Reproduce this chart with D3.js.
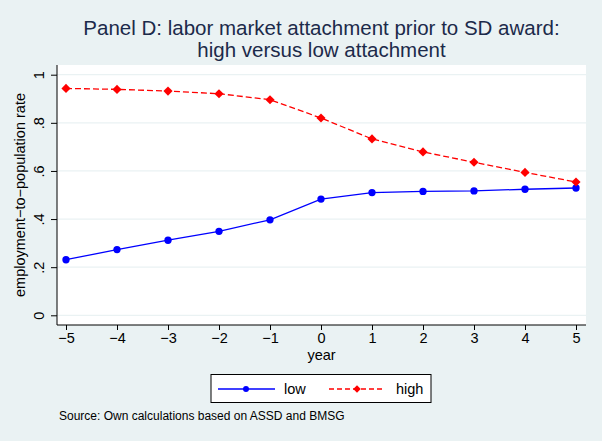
<!DOCTYPE html>
<html><head><meta charset="utf-8">
<script src="https://cdn.jsdelivr.net/npm/d3@7"></script>
<style>body{margin:0;background:#fff;}svg{display:block;font-family:"Liberation Sans",Arial,sans-serif;}</style>
</head><body>
<script>
const years = [-5,-4,-3,-2,-1,0,1,2,3,4,5];
const lowVals = [0.231,0.273,0.312,0.349,0.397,0.483,0.510,0.515,0.517,0.524,0.529];
const highVals = [0.943,0.939,0.932,0.921,0.896,0.820,0.733,0.679,0.636,0.594,0.554];
const yTicks = [0,0.2,0.4,0.6,0.8,1];
const yTickLabels = ["0",".2",".4",".6",".8","1"];
const xTickLabels = ["−5","−4","−3","−2","−1","0","1","2","3","4","5"];
const seriesNames = ["low","high"];

const W=605,H=444;
const bg="#EAF2F3";
const svg=d3.select("body").append("svg").attr("width",W).attr("height",H);
svg.append("rect").attr("width",602).attr("height",441).attr("fill",bg);

const L=57,R=586,T=65,B=325;
const x=d3.scaleLinear().domain([-5,5]).range([66,576]);
const y=d3.scaleLinear().domain([0,1]).range([315.3,74.7]);

svg.append("rect").attr("x",L).attr("y",T).attr("width",R-L).attr("height",B-T).attr("fill","#fff");

// gridlines
svg.append("g").selectAll("line").data(yTicks).join("line")
 .attr("x1",L).attr("x2",R).attr("y1",d=>y(d)).attr("y2",d=>y(d))
 .attr("stroke",bg).attr("stroke-width",1.2);

// y axis
const yAxis=d3.axisLeft(y).tickValues(yTicks).tickSize(6).tickFormat((d,i)=>yTickLabels[i]);
const gy=svg.append("g").attr("transform",`translate(${L},0)`).call(yAxis);
gy.select(".domain").attr("d",`M0,${T}V${B}`).attr("stroke","#000");
gy.selectAll(".tick line").attr("stroke","#000");
gy.selectAll(".tick text").attr("font-size",14.5).attr("fill","#000")
 .attr("transform","rotate(-90)").attr("x",0).attr("dy",0).attr("y",-13).attr("text-anchor","middle");

// x axis
const xAxis=d3.axisBottom(x).tickValues(years).tickSize(5).tickFormat((d,i)=>xTickLabels[i]);
const gx=svg.append("g").attr("transform",`translate(0,${B})`).call(xAxis);
gx.select(".domain").attr("d",`M${L},0H${R}`).attr("stroke","#000");
gx.selectAll(".tick line").attr("stroke","#000");
gx.selectAll(".tick text").attr("font-size",14.5).attr("fill","#000").attr("y",8).attr("dy","0.71em");

svg.append("text").attr("x",(L+R)/2).attr("y",360).attr("text-anchor","middle").attr("font-size",14.5).text("year");
svg.append("text").attr("transform",`translate(25,${(T+B)/2}) rotate(-90)`).attr("text-anchor","middle").attr("font-size",14.5).text("employment−to−population rate");

// title
svg.append("text").attr("x",(L+R)/2).attr("y",35).attr("text-anchor","middle").attr("font-size",20.5).attr("fill","#1c2a4a").text("Panel D: labor market attachment prior to SD award:");
svg.append("text").attr("x",(L+R)/2).attr("y",56.5).attr("text-anchor","middle").attr("font-size",20.5).attr("fill","#1c2a4a").text("high versus low attachment");

// lines
const line=d3.line().x((d,i)=>x(years[i])).y(d=>y(d));
svg.append("path").datum(lowVals).attr("d",line).attr("fill","none").attr("stroke","#0000ff").attr("stroke-width",1.3);
svg.append("path").datum(highVals).attr("d",line).attr("fill","none").attr("stroke","#ff0000").attr("stroke-width",1.3).attr("stroke-dasharray","6,3");

const circ=d3.symbol().type(d3.symbolCircle).size(42);
const diam=d3.symbol().type(d3.symbolSquare).size(42);
svg.append("g").selectAll("path").data(lowVals).join("path")
 .attr("transform",(d,i)=>`translate(${x(years[i])},${y(d)})`).attr("d",circ).attr("fill","#0000ff");
svg.append("g").selectAll("path").data(highVals).join("path")
 .attr("transform",(d,i)=>`translate(${x(years[i])},${y(d)}) rotate(45)`).attr("d",diam).attr("fill","#ff0000");

// legend
const lg=svg.append("g");
lg.append("rect").attr("x",211).attr("y",374.5).attr("width",220).attr("height",28).attr("fill","#fff").attr("stroke","#000").attr("stroke-width",1);
lg.append("line").attr("x1",218).attr("x2",275).attr("y1",389).attr("y2",389).attr("stroke","#0000ff").attr("stroke-width",1.3);
lg.append("path").attr("transform","translate(246,389)").attr("d",d3.symbol().type(d3.symbolCircle).size(28)).attr("fill","#0000ff");
lg.append("text").attr("x",284).attr("y",394).attr("font-size",14.5).text(seriesNames[0]);
lg.append("line").attr("x1",329).attr("x2",385).attr("y1",389).attr("y2",389).attr("stroke","#ff0000").attr("stroke-width",1.3).attr("stroke-dasharray","5,3");
lg.append("path").attr("transform","translate(357,389) rotate(45)").attr("d",d3.symbol().type(d3.symbolSquare).size(28)).attr("fill","#ff0000");
lg.append("text").attr("x",396).attr("y",394).attr("font-size",14.5).text(seriesNames[1]);

svg.append("text").attr("x",59).attr("y",420).attr("font-size",12).text("Source: Own calculations based on ASSD and BMSG");
</script>
</body></html>
